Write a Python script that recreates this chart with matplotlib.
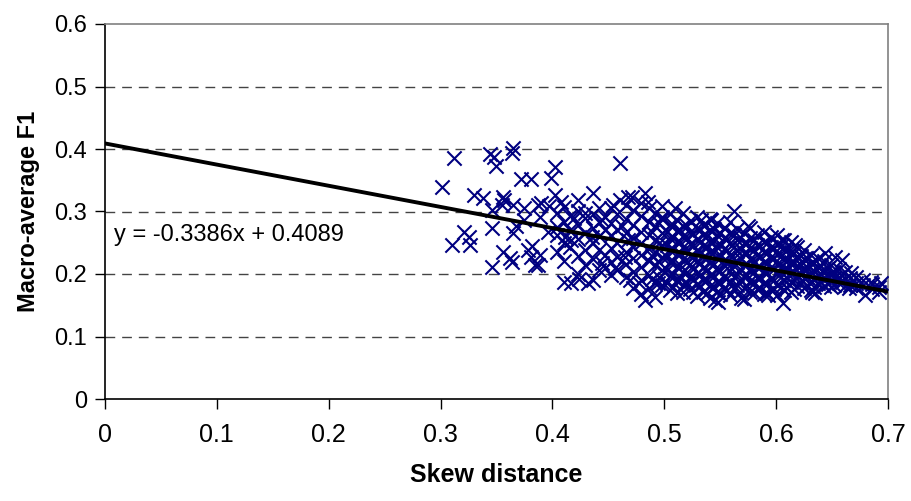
import matplotlib.pyplot as plt
import numpy as np

plt.rcParams['font.family'] = ['Liberation Sans', 'DejaVu Sans']

# sparse points on the left of the cloud
sparse_x = [0.312, 0.344, 0.348, 0.350, 0.365, 0.364, 0.372, 0.381, 0.301, 0.330,
            0.338, 0.356, 0.357, 0.346, 0.310, 0.321, 0.325, 0.326, 0.346, 0.346,
            0.356, 0.362, 0.364, 0.365, 0.367, 0.378, 0.381, 0.384, 0.382, 0.355,
            0.365, 0.375, 0.387, 0.389, 0.375, 0.402, 0.399, 0.460, 0.436, 0.423,
            0.402, 0.408, 0.390, 0.397, 0.460, 0.468, 0.454, 0.417, 0.432, 0.424,
            0.389, 0.387, 0.456, 0.444, 0.429, 0.417, 0.411, 0.396, 0.435, 0.444,
            0.429, 0.419, 0.462, 0.468, 0.465, 0.469]
sparse_y = [0.386, 0.392, 0.388, 0.373, 0.402, 0.394, 0.352, 0.352, 0.339, 0.326,
            0.321, 0.324, 0.319, 0.302, 0.246, 0.268, 0.260, 0.246, 0.273, 0.212,
            0.236, 0.225, 0.220, 0.265, 0.276, 0.238, 0.228, 0.214, 0.245, 0.310,
            0.310, 0.305, 0.310, 0.292, 0.286, 0.372, 0.353, 0.377, 0.329, 0.318,
            0.326, 0.316, 0.313, 0.309, 0.318, 0.324, 0.310, 0.185, 0.185, 0.192,
            0.230, 0.214, 0.210, 0.218, 0.238, 0.254, 0.260, 0.268, 0.260, 0.286,
            0.297, 0.290, 0.276, 0.254, 0.228, 0.190]

# outlying points around the dense part
edge_x = [0.471, 0.483, 0.485, 0.510, 0.498, 0.533, 0.542, 0.483, 0.477, 0.494,
          0.517, 0.545, 0.511, 0.562, 0.575, 0.554, 0.617, 0.605, 0.548, 0.569,
          0.606, 0.593, 0.635, 0.644, 0.653, 0.659, 0.667, 0.685, 0.694, 0.679,
          0.665, 0.632, 0.626]
edge_y = [0.324, 0.329, 0.316, 0.305, 0.292, 0.286, 0.286, 0.158, 0.185, 0.185,
          0.172, 0.158, 0.190, 0.301, 0.276, 0.273, 0.246, 0.254, 0.156, 0.162,
          0.153, 0.166, 0.170, 0.233, 0.228, 0.222, 0.201, 0.188, 0.185, 0.166,
          0.178, 0.172, 0.205]

# dense part, column by column
core_x = [0.404, 0.410, 0.416, 0.423, 0.429, 0.436, 0.442, 0.447,
          0.452, 0.458, 0.466, 0.472, 0.479, 0.486, 0.492, 0.498, 0.505, 0.511,
          0.517, 0.523, 0.529, 0.535, 0.541, 0.547, 0.553, 0.559, 0.565, 0.571,
          0.577, 0.583, 0.589, 0.595, 0.601, 0.607, 0.613, 0.619, 0.625, 0.631,
          0.637, 0.643, 0.649, 0.656, 0.662, 0.671, 0.678, 0.686, 0.692]
core_y = [
    [0.298, 0.275, 0.262, 0.236],
    [0.307, 0.284, 0.249, 0.221, 0.188],
    [0.293, 0.270, 0.243],
    [0.301, 0.279, 0.256, 0.229, 0.200],
    [0.289, 0.266, 0.214],
    [0.296, 0.274, 0.250, 0.224, 0.190],
    [0.305, 0.283, 0.261, 0.238, 0.206],
    [0.292, 0.270, 0.231, 0.210],
    [0.305, 0.282, 0.262, 0.241, 0.219, 0.198],
    [0.296, 0.271, 0.250, 0.228, 0.207],
    [0.311, 0.288, 0.265, 0.236, 0.216, 0.195],
    [0.302, 0.279, 0.257, 0.244, 0.225, 0.204, 0.178],
    [0.314, 0.293, 0.268, 0.249, 0.231, 0.212, 0.191, 0.168],
    [0.305, 0.284, 0.262, 0.240, 0.221, 0.199, 0.177],
    [0.297, 0.276, 0.255, 0.235, 0.214, 0.186, 0.163],
    [0.309, 0.288, 0.266, 0.246, 0.227, 0.206, 0.182],
    [0.296, 0.279, 0.258, 0.239, 0.219, 0.197, 0.174],
    [0.287, 0.269, 0.251, 0.232, 0.211, 0.189, 0.169],
    [0.298, 0.276, 0.261, 0.243, 0.224, 0.204, 0.182],
    [0.285, 0.267, 0.248, 0.229, 0.216, 0.195, 0.176],
    [0.291, 0.273, 0.256, 0.238, 0.221, 0.201, 0.184, 0.165],
    [0.279, 0.263, 0.245, 0.228, 0.209, 0.190, 0.172],
    [0.288, 0.270, 0.252, 0.236, 0.218, 0.199, 0.181, 0.162],
    [0.281, 0.262, 0.244, 0.226, 0.207, 0.188, 0.171],
    [0.274, 0.258, 0.240, 0.222, 0.214, 0.196, 0.178],
    [0.283, 0.265, 0.249, 0.231, 0.205, 0.186, 0.167],
    [0.272, 0.255, 0.237, 0.219, 0.200, 0.182],
    [0.266, 0.250, 0.233, 0.215, 0.196, 0.177, 0.160],
    [0.274, 0.258, 0.241, 0.224, 0.208, 0.189, 0.171],
    [0.263, 0.247, 0.230, 0.212, 0.194, 0.176],
    [0.268, 0.252, 0.236, 0.219, 0.203, 0.185, 0.168],
    [0.259, 0.243, 0.227, 0.211, 0.193, 0.175],
    [0.262, 0.248, 0.232, 0.216, 0.200, 0.183, 0.166],
    [0.255, 0.239, 0.223, 0.207, 0.190, 0.174],
    [0.251, 0.235, 0.219, 0.203, 0.187, 0.171],
    [0.243, 0.228, 0.213, 0.197, 0.181],
    [0.238, 0.224, 0.209, 0.193, 0.178],
    [0.231, 0.217, 0.203, 0.189, 0.175],
    [0.226, 0.212, 0.198, 0.185],
    [0.221, 0.207, 0.194, 0.181],
    [0.215, 0.202, 0.190, 0.179],
    [0.208, 0.196, 0.185],
    [0.203, 0.192, 0.181],
    [0.196, 0.186, 0.177],
    [0.191, 0.182],
    [0.184, 0.176],
    [0.180, 0.172],
]

# second pass over the densest part, between the columns above
fill_x = [0.489, 0.495, 0.502, 0.508, 0.514, 0.520, 0.526, 0.532, 0.538, 0.544,
          0.550, 0.556, 0.562, 0.568, 0.574, 0.580, 0.586, 0.592, 0.598, 0.604,
          0.610, 0.616, 0.622, 0.628, 0.634, 0.640, 0.646, 0.652, 0.659, 0.666]
fill_y = [
    [0.268, 0.229, 0.192],
    [0.281, 0.250, 0.219, 0.195],
    [0.267, 0.247, 0.228, 0.207, 0.186],
    [0.278, 0.259, 0.240, 0.221, 0.200, 0.179],
    [0.270, 0.252, 0.233, 0.214, 0.193],
    [0.276, 0.257, 0.238, 0.220, 0.203, 0.186],
    [0.264, 0.245, 0.227, 0.208, 0.190, 0.172],
    [0.270, 0.252, 0.236, 0.218, 0.199, 0.181],
    [0.261, 0.243, 0.225, 0.207, 0.190, 0.170],
    [0.272, 0.253, 0.235, 0.216, 0.197, 0.179],
    [0.265, 0.248, 0.231, 0.205, 0.186, 0.168],
    [0.256, 0.238, 0.221, 0.210, 0.193, 0.175],
    [0.262, 0.244, 0.226, 0.213, 0.195, 0.176],
    [0.259, 0.242, 0.226, 0.208, 0.190, 0.171],
    [0.250, 0.233, 0.216, 0.199, 0.181],
    [0.255, 0.238, 0.221, 0.203, 0.186, 0.169],
    [0.245, 0.228, 0.211, 0.194, 0.177],
    [0.250, 0.234, 0.217, 0.201, 0.184, 0.170],
    [0.242, 0.225, 0.208, 0.191, 0.176],
    [0.245, 0.229, 0.212, 0.196, 0.179],
    [0.238, 0.222, 0.206, 0.193, 0.178],
    [0.234, 0.219, 0.204, 0.190, 0.176],
    [0.229, 0.215, 0.200, 0.186],
    [0.225, 0.211, 0.196, 0.182],
    [0.218, 0.205, 0.191, 0.179],
    [0.213, 0.200, 0.187],
    [0.210, 0.197, 0.184],
    [0.204, 0.193, 0.182],
    [0.199, 0.188],
    [0.194, 0.183],
]

slope = -0.3386
intercept = 0.4089

xs = list(sparse_x) + list(edge_x)
ys = list(sparse_y) + list(edge_y)
for cx, col in list(zip(core_x, core_y)) + list(zip(fill_x, fill_y)):
    for cy in col:
        xs.append(cx)
        ys.append(cy)

fig = plt.figure(figsize=(9.12, 5.01), dpi=100)
ax = fig.add_axes([105/912, 102/501, 783/912, 375/501])

ax.scatter(xs, ys, marker='x', s=105, color='#000080', linewidths=1.5, zorder=3)

lx = np.array([0, 0.7])
ax.plot(lx, slope*lx + intercept, color='black', lw=2.8, zorder=4)

ax.text(0.008, 0.262, 'y = -0.3386x + 0.4089', fontsize=17, va='center', ha='left')

ax.set_xlim(0, 0.7)
ax.set_ylim(0, 0.6)
ax.set_xticks(np.arange(0, 0.71, 0.1))
ax.set_yticks(np.arange(0, 0.61, 0.1))
ax.set_xticklabels(['0', '0.1', '0.2', '0.3', '0.4', '0.5', '0.6', '0.7'], fontsize=18)
ax.set_yticklabels(['0', '0.1', '0.2', '0.3', '0.4', '0.5', '0.6'], fontsize=17)
for yv in [0.1, 0.2, 0.3, 0.4, 0.5]:
    ax.axhline(yv, color='#444444', lw=1, ls=(0, (7, 5)), zorder=1)

ax.spines['left'].set_color('black')
ax.spines['bottom'].set_color('black')
ax.spines['top'].set_color('#808080')
ax.spines['right'].set_color('#808080')
for s in ax.spines.values():
    s.set_linewidth(1.2)
ax.tick_params(direction='out', length=7, width=1, pad=10)
ax.tick_params(axis='y', pad=6)

ax.set_xlabel('Skew distance', fontsize=18, fontweight='bold', labelpad=12)
ax.set_ylabel('Macro-average F1', fontsize=17, fontweight='bold', labelpad=10)

fig.savefig('out.png', dpi=100)
